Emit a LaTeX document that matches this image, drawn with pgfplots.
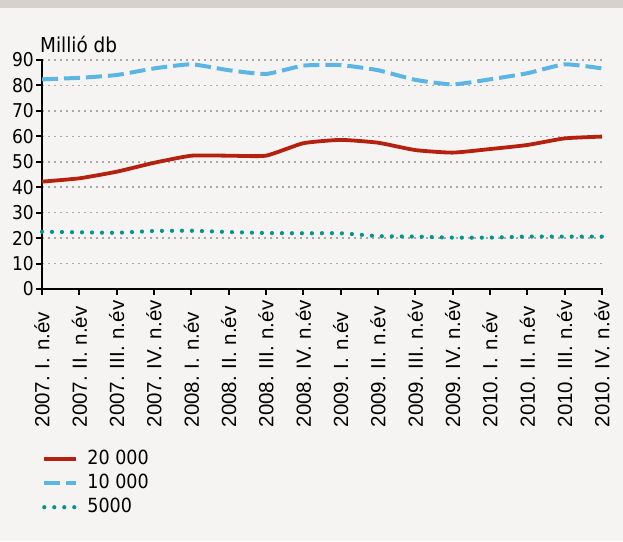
\documentclass[border=0pt]{standalone}
\usepackage{fontspec}
\setmainfont{DejaVu Sans Condensed}
\newfontfamily\xfont{Liberation Sans}
\usepackage{pgfplots}
\pgfplotsset{compat=1.18}

\definecolor{bgcol}{HTML}{F5F4F2}
\definecolor{barcol}{HTML}{D6D1CC}
\definecolor{redline}{HTML}{B4220F}
\definecolor{blueline}{HTML}{5BB6E5}
\definecolor{greenline}{HTML}{00968A}
\definecolor{gridcol}{HTML}{A9A9A9}

\begin{document}
\begin{tikzpicture}
  \fill[bgcol] (0pt,0pt) rectangle (623pt,-541pt);
  \fill[barcol] (0pt,0pt) rectangle (623pt,-8pt);
  \useasboundingbox (0pt,0pt) rectangle (623pt,-541pt);

  \begin{axis}[
      at={(42pt,-289pt)},
      anchor=south west,
      scale only axis,
      width=560pt,
      height=229pt,
      xmin=0, xmax=15,
      ymin=0, ymax=90,
      axis x line*=bottom,
      axis y line*=left,
      axis line style={line width=2.5pt, line cap=rect},
      ytick={0,10,...,90},
      xtick={0,...,15},
      xticklabels={
          2007.~I.~n.év, 2007.~II.~n.év, 2007.~III.~n.év, 2007.~IV.~n.év,
          2008.~I.~n.év, 2008.~II.~n.év, 2008.~III.~n.év, 2008.~IV.~n.év,
          2009.~I.~n.év, 2009.~II.~n.év, 2009.~III.~n.év, 2009.~IV.~n.év,
          2010.~I.~n.év, 2010.~II.~n.év, 2010.~III.~n.év, 2010.~IV.~n.év},
      tick align=outside,
      major tick length=6pt,
      tick style={line width=2pt, black},
      ymajorgrids,
      major grid style={draw=gridcol, line width=1.5pt, dash pattern=on 1.5pt off 4.5pt},
      /pgf/number format/assume math mode=true,
      yticklabel style={font=\fontsize{19}{21}\selectfont, inner sep=2pt},
      xticklabel style={font=\xfont\fontsize{20.5}{22}\selectfont, rotate=90,
          anchor=east, text width=124pt, align=left, inner sep=0pt},
      xticklabel shift=8pt,
      clip=false,
      legend style={
          at={(axis description cs:0,0)},
          anchor=north west,
          xshift=-3pt,
          yshift=-156pt,
          draw=none,
          fill=none,
          font=\fontsize{19.5}{21}\selectfont,
          row sep=0pt,
          column sep=8pt,
          nodes={inner sep=1pt, text height=16pt, text depth=6pt, anchor=west},
          cells={anchor=west},
        },
      legend image code/.code={
          \draw[#1] (0pt,0pt) -- (32pt,0pt);
        },
    ]

    \addplot[redline, line width=3.8pt, smooth, tension=0.3, line join=round]
    coordinates {
        (0,42.2) (1,43.5) (2,46.1) (3,49.6) (4,52.4) (5,52.4) (6,52.4) (7,57.3)
        (8,58.6) (9,57.5) (10,54.6) (11,53.6) (12,55.0) (13,56.6) (14,59.2) (15,59.9)
      };
    \addlegendentry{20 000}

    \addplot[blueline, line width=4pt, smooth, tension=0.3, dash pattern=on 16pt off 6pt]
    coordinates {
        (0,82.4) (1,83.0) (2,84.1) (3,86.7) (4,88.3) (5,86.0) (6,84.5) (7,87.8)
        (8,88.0) (9,86.0) (10,82.2) (11,80.4) (12,82.4) (13,84.8) (14,88.3) (15,86.7)
      };
    \addlegendentry{10 000}

    \addplot[greenline, line width=4.2pt, smooth, tension=0.3, line cap=round,
      dash pattern=on 0pt off 10pt]
    coordinates {
        (0,22.5) (1,22.3) (2,22.1) (3,22.8) (4,22.9) (5,22.4) (6,22.0) (7,21.9)
        (8,21.9) (9,20.8) (10,20.6) (11,20.2) (12,20.2) (13,20.6) (14,20.6) (15,20.6)
      };
    \addlegendentry{5000}
  \end{axis}

  \node[anchor=base west, inner sep=0pt, font=\fontsize{20.5}{22}\selectfont]
    at (40pt,-52pt) {Millió db};
\end{tikzpicture}
\end{document}
